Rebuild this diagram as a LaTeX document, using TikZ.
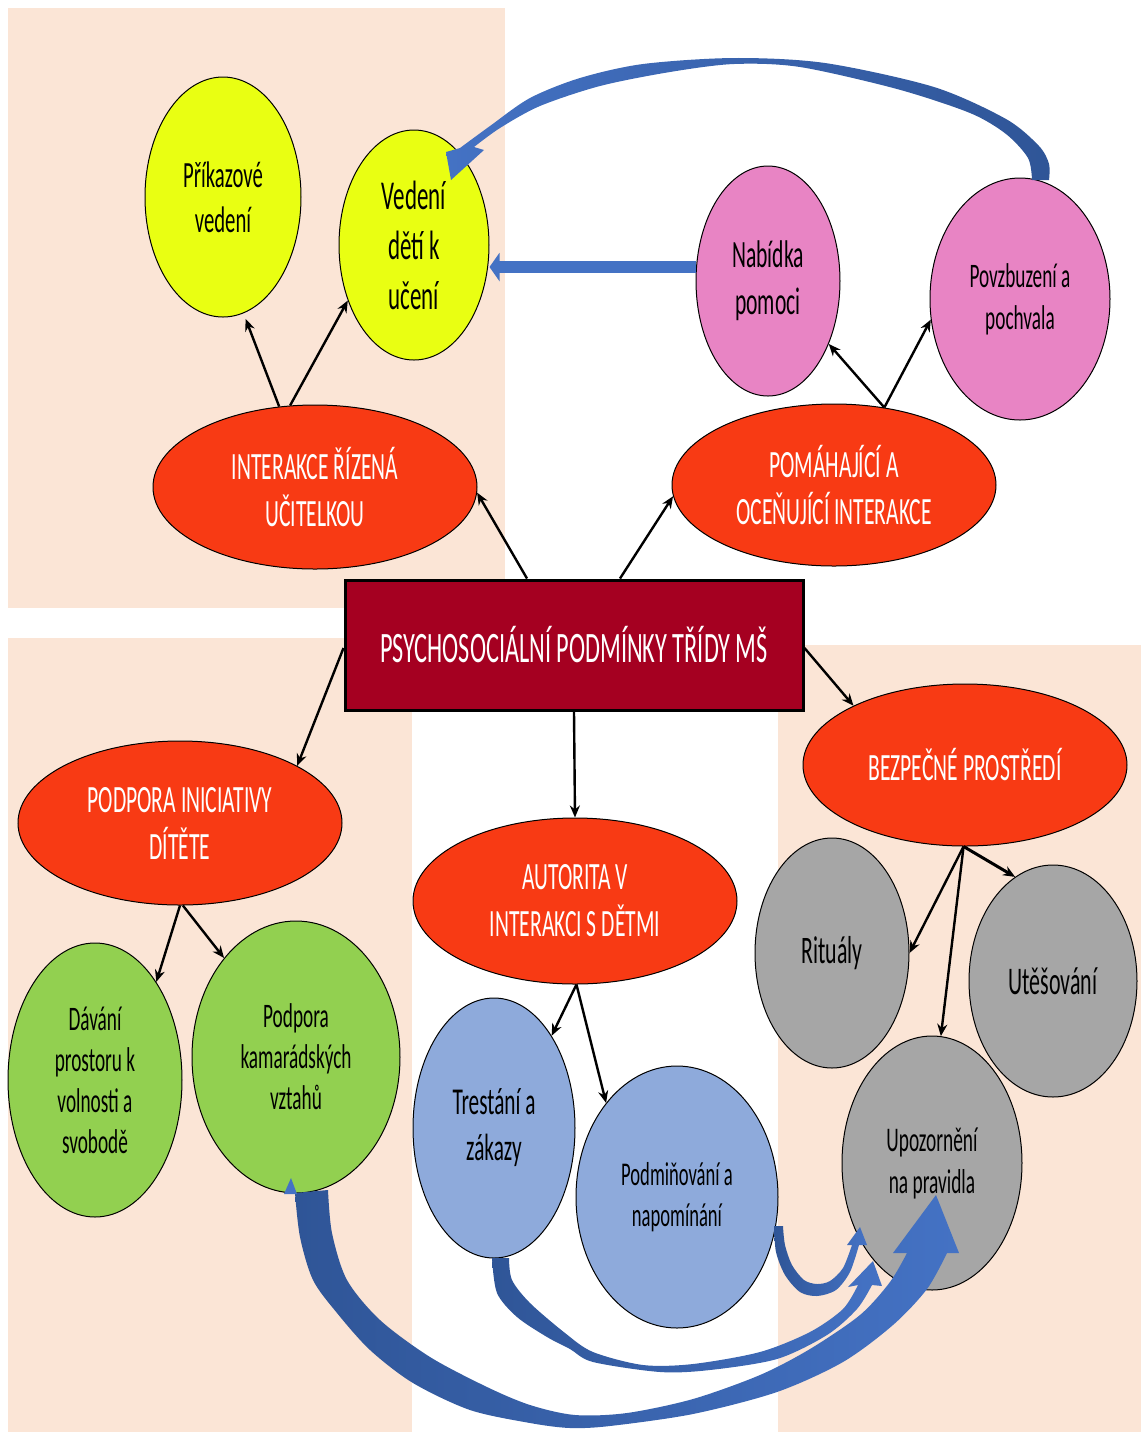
\documentclass[tikz,border=0pt]{standalone}
\usepackage{fontspec}
\setmainfont{Carlito}[FakeStretch=0.56]
\usetikzlibrary{shapes.geometric,arrows.meta}
\definecolor{pozadi}{HTML}{FBE5D6}
\definecolor{cervena}{HTML}{F83A14}
\definecolor{vinova}{HTML}{A50021}
\definecolor{zluta}{HTML}{E9FF12}
\definecolor{ruzova}{HTML}{E884C4}
\definecolor{zelena}{HTML}{92D050}
\definecolor{modra}{HTML}{8EAADB}
\definecolor{seda}{HTML}{A6A6A6}
\definecolor{sipmodra}{HTML}{4472C4}
\definecolor{siptmava}{HTML}{2F5597}
\newcommand{\pis}[2]{\fontsize{#1}{#2}\selectfont}

\begin{document}
\begin{tikzpicture}[x=0.5pt,y=-0.5pt,
    oval/.style={ellipse, draw=black, line width=0.5pt, inner sep=0pt, align=center},
    hlavni/.style={oval, fill=cervena, text=white, minimum width=162pt, font=\pis{19.3}{23.5}},
    sipka/.style={line width=1.2pt, -{Stealth[length=6pt,width=5pt]}}]
    \useasboundingbox (0,0) rectangle (1141,1432);
    % pozadi
    \fill[pozadi] (8,8) rectangle (505,608);
    \fill[pozadi] (8,638) rectangle (412,1432);
    \fill[pozadi] (778,645) rectangle (1141,1432);
    % uzly
    \node[draw=black, line width=1.5pt, fill=vinova, text=white, minimum width=229pt, minimum height=65pt,
        font=\pis{21.7}{26}] (psy) at (574,645) {PSYCHOSOCIÁLNÍ PODMÍNKY TŘÍDY MŠ};
    \node[hlavni, minimum height=82pt] (inter) at (315,487) {INTERAKCE ŘÍZENÁ\\UČITELKOU};
    \node[hlavni, minimum height=81pt] (pomah) at (834,485) {POMÁHAJÍCÍ A\\OCEŇUJÍCÍ INTERAKCE};
    \node[hlavni, minimum height=82pt] (podpora) at (180,823) {PODPORA INICIATIVY\\DÍTĚTE};
    \node[hlavni, minimum height=83pt] (autor) at (575,901) {AUTORITA V\\INTERAKCI S DĚTMI};
    \node[hlavni, minimum height=81pt] (bezp) at (965,765) {BEZPEČNÉ PROSTŘEDÍ};
    \node[oval, fill=zluta, minimum width=78pt, minimum height=120pt, font=\pis{18.5}{22.5}] (prik) at (223,197) {Příkazové\\vedení};
    \node[oval, fill=zluta, minimum width=75pt, minimum height=115pt, font=\pis{20.5}{25}] (ved) at (414,245) {Vedení\\dětí k\\učení};
    \node[oval, fill=ruzova, minimum width=72pt, minimum height=115pt, font=\pis{19.3}{23.5}] (nab) at (768,281) {Nabídka\\pomoci};
    \node[oval, fill=ruzova, minimum width=90pt, minimum height=121pt, font=\pis{17.2}{21}] (povz) at (1020,299) {Povzbuzení a\\pochvala};
    \node[oval, fill=zelena, minimum width=87pt, minimum height=137pt, font=\pis{17.2}{20.5}] (davani) at (95,1080) {Dávání\\prostoru k\\volnosti a\\svobodě};
    \node[oval, fill=zelena, minimum width=104pt, minimum height=136pt, font=\pis{17.2}{20.5}] (podk) at (296,1057) {Podpora\\kamarádských\\vztahů};
    \node[oval, fill=modra, minimum width=81pt, minimum height=130pt, font=\pis{19}{23}] (trest) at (494,1128) {Trestání a\\zákazy};
    \node[oval, fill=modra, minimum width=101pt, minimum height=131pt, font=\pis{16.6}{20.5}] (podm) at (677,1197) {Podmiňování a\\napomínání};
    \node[oval, fill=seda, minimum width=77pt, minimum height=115pt, font=\pis{19.5}{23}] (rit) at (832,953) {Rituály};
    \node[oval, fill=seda, minimum width=84pt, minimum height=116pt, font=\pis{19.6}{23}] (utes) at (1053,981) {Utěšování};
    \node[oval, fill=seda, minimum width=90pt, minimum height=127pt, font=\pis{17.3}{21}] (upoz) at (932,1163) {Upozornění\\na pravidla};
    % cerne sipky
    \draw[sipka] ([xshift=-23.5pt]psy.north) -- (inter.-2);
    \draw[sipka] ([xshift=23pt]psy.north) -- (pomah.184);
    \draw[sipka] ([yshift=-1.5pt]psy.west) -- (podpora.26);
    \draw[sipka] (psy.south) -- (autor.north);
    \draw[sipka] ([yshift=-1.5pt]psy.east) -- (bezp.152);
    \draw[sipka, shorten >=3pt] (inter.114) -- (prik.-80);
    \draw[sipka] (inter.107) -- (ved.220);
    \draw[sipka] (pomah.57) -- (nab.-46);
    \draw[sipka] (pomah.57) -- (povz.193);
    \draw[sipka] (podpora.-90) -- (davani.58);
    \draw[sipka] (podpora.-88) -- (podk.126);
    \draw[sipka] (autor.-89) -- (trest.58);
    \draw[sipka] (autor.-89) -- (podm.127);
    \draw[sipka] (bezp.-91) -- (rit.east);
    \draw[sipka] (bezp.-91) -- (upoz.86);
    \draw[sipka, line width=1.5pt] (bezp.-91) -- (utes.110);
    % modre sipky
    \draw[sipmodra, line width=6pt, -{Triangle[width=14pt,length=5pt]}] ([yshift=7pt]nab.west) -- ([yshift=-11pt]ved.east);
    \shade[left color=sipmodra, right color=siptmava]
        plot[smooth] coordinates {(1049,180) (1049,164) (1039,146) (1006,119) (934,87) (825,63) (734,58) (643,64) (580,78) (530,98) (490,126) (460,148)}
        -- (446,152) -- (451,180) -- (484,150) --
        plot[smooth] coordinates {(474,147) (500,128) (540,106) (600,86) (670,72) (734,64) (800,67) (897,89) (970,113) (1006,134) (1028,158) (1032,180)}
        -- cycle;
    \shade[left color=siptmava, right color=sipmodra]
        plot[smooth] coordinates {(295,1193) (300,1237) (313,1280) (337,1313) (370,1350) (413,1383) (470,1410) (530,1423) (570,1428) (610,1426) (693,1414) (777,1392) (843,1362) (893,1325) (927,1289) (947,1253)}
        -- (959,1253) -- (936,1195) -- (893,1253) --
        plot[smooth] coordinates {(907,1253) (890,1282) (860,1315) (810,1349) (760,1375) (693,1399) (627,1413) (575,1415) (530,1405) (487,1387) (430,1357) (380,1320) (347,1280) (332,1233) (328,1190)}
        -- cycle;
    \fill[sipmodra] (284,1194) -- (291,1178) -- (297,1194) -- cycle;
    \shade[left color=siptmava, right color=sipmodra]
        plot[smooth] coordinates {(492,1258) (497,1293) (517,1317) (547,1337) (570,1349) (593,1362) (660,1372) (710,1370) (777,1359) (827,1335) (857,1309) (872,1285)}
        -- (882,1286) -- (873,1261) -- (848,1287) --
        plot[smooth] coordinates {(858,1285) (843,1309) (810,1332) (760,1352) (693,1364) (643,1365) (593,1352) (565,1333) (530,1303) (512,1280) (509,1258)}
        -- cycle;
    \shade[left color=siptmava, right color=sipmodra]
        plot[smooth] coordinates {(774,1226) (776,1252) (785,1275) (800,1292) (817,1296) (836,1290) (850,1272) (859,1245)}
        -- (867,1245) -- (860,1227) -- (847,1245) --
        plot[smooth] coordinates {(852,1245) (843,1268) (830,1281) (817,1284) (804,1280) (792,1265) (785,1245) (783,1226)}
        -- cycle;
\end{tikzpicture}
\end{document}
